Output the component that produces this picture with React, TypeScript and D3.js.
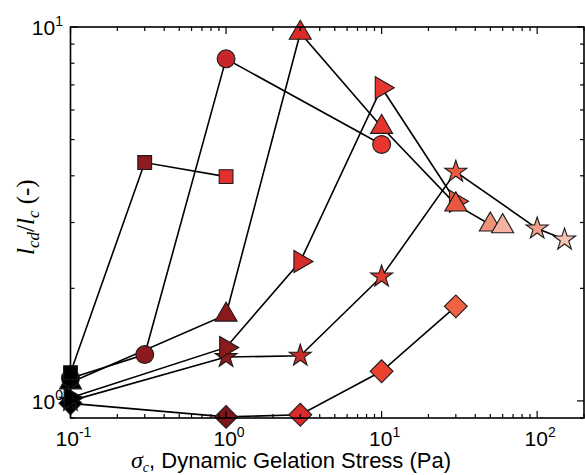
import React from "react";
import * as d3 from "d3";

// ---- data (sigma_c in Pa, l_cd/l_c) ----
const squareX = [0.1, 0.3, 1];
const squareY = [1.19, 4.34, 3.98];

const circleX = [0.1, 0.3, 1, 10];
const circleY = [1.15, 1.33, 8.22, 4.85];

const triUpX = [0.1, 1, 3, 10, 30, 50, 60];
const triUpY = [1.12, 1.7, 9.64, 5.4, 3.35, 2.96, 2.93];

const triRightX = [0.1, 1, 3, 10, 30];
const triRightY = [1.02, 1.39, 2.36, 6.88, 3.42];

const starX = [0.1, 1, 3, 10, 30, 100, 150];
const starY = [1.0, 1.31, 1.32, 2.15, 4.1, 2.89, 2.7];

const diamondX = [0.1, 1, 3, 10, 30];
const diamondY = [0.985, 0.906, 0.918, 1.2, 1.79];

const xTicks = [0.1, 1, 10, 100];
const xTickExp = ["-1", "0", "1", "2"];
const yTicks = [1, 10];
const yTickExp = ["0", "1"];

// ---- styles (kept apart from the data) ----
const squareColors = ["#000000", "#8c1a1e", "#e1312f"];
const circleColors = ["#000000", "#8c1a1e", "#c9262b", "#e8362f"];
const triUpColors = ["#000000", "#8a1a1c", "#db2a2a", "#e4352d", "#e8573f", "#f0917a", "#f6b3a2"];
const triRightColors = ["#000000", "#8a1a1c", "#d62b2b", "#e6362e", "#e9563e"];
const starColors = ["#000000", "#8a1a1c", "#cc2b2b", "#e23b30", "#ea5b40", "#f39e8a", "#f8c3b3"];
const diamondColors = ["#000000", "#7c1619", "#da2b2a", "#e9422f", "#ef6242"];

const W = 585;
const H = 475;
const L = 70.5, R = 584, T = 27, B = 418;

const x = d3.scaleLog().domain([0.1, 200]).range([L, R]);
const y = d3.scaleLog().domain([0.9, 10]).range([B, T]);

type Shape = "square" | "circle" | "triUp" | "triRight" | "star" | "diamond";

function symbolPath(shape: Shape): string {
  switch (shape) {
    case "square":
      return d3.symbol(d3.symbolSquare, 190)()!;
    case "circle":
      return d3.symbol(d3.symbolCircle, 250)()!;
    case "triUp":
    case "triRight":
      return d3.symbol(d3.symbolTriangle, 210)()!;
    case "star":
      return d3.symbol(d3.symbolStar, 150)()!;
    case "diamond":
      return d3.symbol(d3.symbolSquare, 260)()!;
  }
}

function rotation(shape: Shape): number {
  if (shape === "triRight") return 90;
  if (shape === "diamond") return 45;
  return 0;
}

const series: { shape: Shape; xs: number[]; ys: number[]; colors: string[] }[] = [
  { shape: "diamond", xs: diamondX, ys: diamondY, colors: diamondColors },
  { shape: "star", xs: starX, ys: starY, colors: starColors },
  { shape: "triRight", xs: triRightX, ys: triRightY, colors: triRightColors },
  { shape: "triUp", xs: triUpX, ys: triUpY, colors: triUpColors },
  { shape: "circle", xs: circleX, ys: circleY, colors: circleColors },
  { shape: "square", xs: squareX, ys: squareY, colors: squareColors },
];

const line = d3
  .line<[number, number]>()
  .x((d) => x(d[0]))
  .y((d) => y(d[1]));

export default function App() {
  const xMinor: number[] = [];
  for (let e = -1; e <= 2; e++) {
    for (let m = 1; m <= 9; m++) {
      const v = m * Math.pow(10, e);
      if (v >= 0.1 && v <= 200) xMinor.push(v);
    }
  }
  const yMinor: number[] = [];
  for (let e = -1; e <= 1; e++) {
    for (let m = 1; m <= 9; m++) {
      const v = m * Math.pow(10, e);
      if (v >= 0.9 && v <= 10) yMinor.push(v);
    }
  }
  const isMajor = (v: number) => Math.abs(Math.log10(v) - Math.round(Math.log10(v))) < 1e-9;
  const sans = "Liberation Sans, Arial, sans-serif";
  const serif = "Liberation Serif, Times New Roman, serif";

  return (
    <svg
      width={W}
      height={H}
      style={{ position: "absolute", left: 0, top: 0, background: "#fff" }}
    >
      {series.map((s, i) => (
        <path
          key={"l" + i}
          d={line(s.xs.map((v, j) => [v, s.ys[j]] as [number, number]))!}
          fill="none"
          stroke="#000"
          strokeWidth={1.6}
        />
      ))}
      {series.map((s, i) =>
        s.xs.map((v, j) => (
          <path
            key={"m" + i + "-" + j}
            d={symbolPath(s.shape)}
            transform={`translate(${x(v)},${y(s.ys[j])}) rotate(${rotation(s.shape)})`}
            fill={s.colors[j]}
            stroke="#1a1a1a"
            strokeWidth={1.1}
          />
        ))
      )}

      <rect x={L} y={T} width={R - L} height={B - T} fill="none" stroke="#000" strokeWidth={1.6} />
      {xMinor.map((v, i) => {
        const len = isMajor(v) ? 7 : 4;
        return (
          <g key={"xt" + i}>
            <line x1={x(v)} x2={x(v)} y1={B} y2={B - len} stroke="#000" strokeWidth={1.2} />
            <line x1={x(v)} x2={x(v)} y1={T} y2={T + len} stroke="#000" strokeWidth={1.2} />
          </g>
        );
      })}
      {yMinor.map((v, i) => {
        const len = isMajor(v) ? 7 : 4;
        return (
          <g key={"yt" + i}>
            <line x1={L} x2={L + len} y1={y(v)} y2={y(v)} stroke="#000" strokeWidth={1.2} />
            <line x1={R} x2={R - len} y1={y(v)} y2={y(v)} stroke="#000" strokeWidth={1.2} />
          </g>
        );
      })}

      {xTicks.map((v, i) => (
        <text key={"xl" + i} x={x(v) + 3} y={446} textAnchor="middle" fontFamily={sans} fontSize={21}>
          10
          <tspan dy={-9} fontSize={14}>
            {xTickExp[i]}
          </tspan>
        </text>
      ))}
      {yTicks.map((v, i) => (
        <text key={"yl" + i} x={63} y={y(v) + 8} textAnchor="end" fontFamily={sans} fontSize={21}>
          10
          <tspan dy={-9} fontSize={14}>
            {yTickExp[i]}
          </tspan>
        </text>
      ))}

      <text x={131} y={468} fontFamily={sans} fontSize={22}>
        <tspan fontFamily={serif} fontStyle="italic" fontSize={24}>σ</tspan>
        <tspan fontFamily={serif} fontStyle="italic" fontSize={14} dy={4}>c</tspan>
        <tspan dy={-4}>, Dynamic Gelation Stress (Pa)</tspan>
      </text>

      <text
        transform="translate(34,255) rotate(-90)"
        fontFamily={serif}
        fontSize={25}
        textAnchor="start"
      >
        <tspan fontStyle="italic">l</tspan>
        <tspan fontStyle="italic" fontSize={17} dy={5}>cd</tspan>
        <tspan dy={-5}>/</tspan>
        <tspan fontStyle="italic">l</tspan>
        <tspan fontStyle="italic" fontSize={17} dy={5}>c</tspan>
        <tspan dy={-5}>{"  (-)"}</tspan>
      </text>
    </svg>
  );
}
